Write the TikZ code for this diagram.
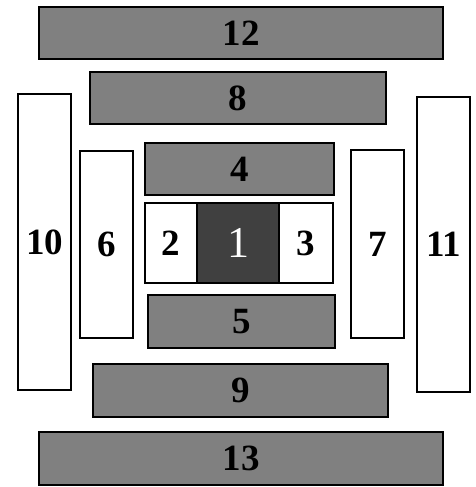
\documentclass[tikz,border=0pt]{standalone}
\usepackage{fontspec}
\setmainfont{Liberation Serif}
\usepackage{tikz}

\begin{document}
\begin{tikzpicture}[x=1pt, y=-1pt, every node/.style={draw=black, line width=1.6pt, inner sep=0pt, font=\bfseries\fontsize{37}{37}\selectfont}, bar/.style={fill=black!50}, post/.style={fill=white}, core/.style={fill=black!75, text=white, font=\mdseries\fontsize{44}{44}\selectfont}]
	\useasboundingbox (0,0) rectangle (475,487);
	% horizontal bars
	\node[bar, minimum width=404pt, minimum height=52pt] (b12) at (241,33) {12};
	\node[bar, minimum width=296pt, minimum height=52pt] (b8) at (238,98) {8};
	\node[bar, minimum width=189pt, minimum height=52pt] (b4) at (239.5,169) {4};
	\node[bar, minimum width=187pt, minimum height=53pt] (b5) at (241.5,321.5) {5};
	\node[bar, minimum width=295pt, minimum height=53pt] (b9) at (240.5,390.5) {9};
	\node[bar, minimum width=404pt, minimum height=53pt] (b13) at (241,458.5) {13};
	% vertical posts
	\node[post, minimum width=53pt, minimum height=296pt] (b10) at (44.5,242) {10};
	\node[post, minimum width=53pt, minimum height=187pt] (b6) at (106.5,244.5) {6};
	\node[post, minimum width=53pt, minimum height=188pt] (b7) at (377.5,244) {7};
	\node[post, minimum width=53pt, minimum height=295pt] (b11) at (443.5,244.5) {11};
	% centre row
	\node[core, minimum width=82pt, minimum height=80pt] (b1) at (238,243) {1};
	\node[post, minimum width=52pt, minimum height=80pt] (b2) at (171,243) {2};
	\node[post, minimum width=54pt, minimum height=80pt] (b3) at (306,243) {3};
\end{tikzpicture}
\end{document}
